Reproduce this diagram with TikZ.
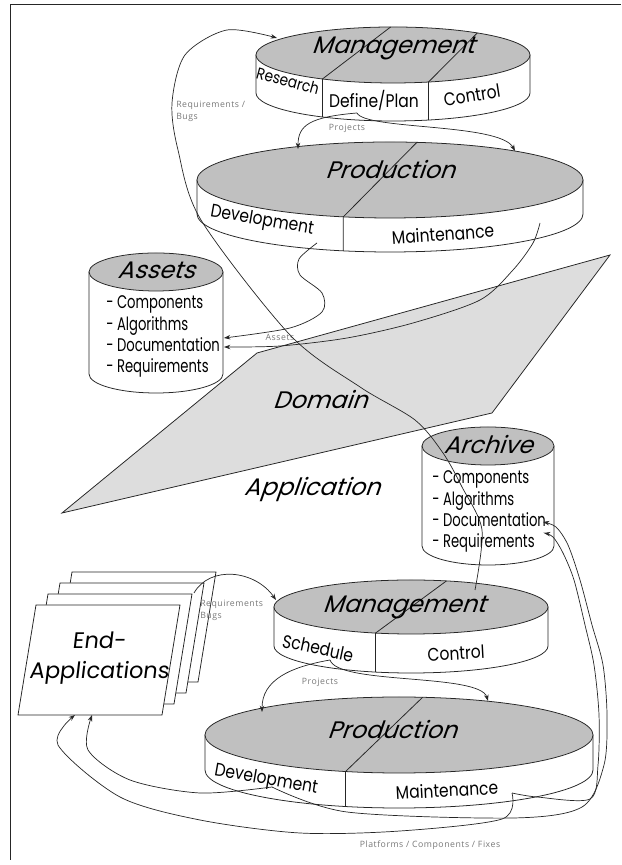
\documentclass[tikz,border=0pt]{standalone}
\usepackage{fontspec}
\setmainfont{Poppins}
\newfontfamily\titlefont[FakeSlant=0.35]{Poppins}
\newfontfamily\segfont[FakeStretch=0.85]{Poppins}
\newfontfamily\itemfont[FakeStretch=0.72]{Poppins}
\newfontfamily\endfont[FakeSlant=0.12]{Poppins}
\newfontfamily\notefont[LetterSpace=6]{Open Sans}
\usetikzlibrary{calc,arrows.meta}

\definecolor{topgray}{RGB}{192,192,192}
\definecolor{domaingray}{RGB}{221,221,221}
\definecolor{notegray}{RGB}{120,120,120}

\tikzset{
  outline/.style={draw=black!85, line width=0.55pt},
  wall/.style={outline, fill=white},
  topface/.style={outline, fill=topgray},
  page/.style={outline, fill=white},
  flow/.style={draw=black!85, line width=0.5pt, -{Stealth[length=4.5pt,width=3.2pt]}},
  title/.style={font=\titlefont\fontsize{17}{19}\selectfont, inner sep=0pt},
  seglabel/.style={font=\segfont\fontsize{13}{15}\selectfont, inner sep=0pt},
  itemlist/.style={font=\itemfont\fontsize{13}{15}\selectfont, inner sep=0pt, align=left, anchor=west},
  endtext/.style={font=\endfont\fontsize{16}{21}\selectfont, inner sep=0pt, align=center},
  note/.style={font=\notefont\fontsize{6.2}{8.5}\selectfont, text=notegray, inner sep=0pt},
}

\begin{document}
\begin{tikzpicture}[x=0.025cm, y=0.025cm]
\useasboundingbox (0,0) rectangle (621,865);

% Frame
\draw[outline] (10,5) -- (10,861) -- (621,861);

% Domain / Application plane
\filldraw[outline, fill=domaingray] (257,512) -- (610,610) -- (492,452) -- (62,352) -- cycle;
\node[title] (domain) at (320,465) {Domain};
\node[title] (application) at (312,375) {Application};

% Management (domain)
\coordinate (tm) at (393,810);
\filldraw[wall] (256,810) -- (256,772) arc[start angle=180, end angle=360, x radius=137, y radius=28] -- (530,810) -- cycle;
\filldraw[topface] (tm) ellipse [x radius=137, y radius=28];
\draw[outline] ($(tm)+(91:137 and 28)$) -- ($(tm)+(239:137 and 28)$) -- ++(0,-38);
\draw[outline] ($(tm)+(52:137 and 28)$) -- ($(tm)+(285:137 and 28)$) -- ++(0,-38);
\node[title] (tm-title) at (393,817) {Management};
\node[seglabel, font=\segfont\fontsize{11.5}{13}\selectfont, rotate=-15] (tm-research) at (288,784) {Research};
\node[seglabel] (tm-define) at (374,765) {Define/Plan};
\node[seglabel, rotate=9] (tm-control) at (472,770) {Control};

% Production (domain)
\coordinate (tp) at (390,685);
\filldraw[wall] (197,685) -- (197,651) arc[start angle=180, end angle=360, x radius=193, y radius=38] -- (583,685) -- cycle;
\filldraw[topface] (tp) ellipse [x radius=193, y radius=38];
\draw[outline] ($(tp)+(82:193 and 38)$) -- ($(tp)+(256:193 and 38)$) -- ++(0,-34);
\node[title] (tp-title) at (390,695) {Production};
\node[seglabel, rotate=-10] (tp-devel) at (262,644) {Development};
\node[seglabel, rotate=4] (tp-maint) at (443,631) {Maintenance};

% Assets
\coordinate (as) at (156,593);
\filldraw[wall] (89,593) -- (89,491) arc[start angle=180, end angle=360, x radius=67, y radius=19] -- (223,593) -- cycle;
\filldraw[topface] (as) ellipse [x radius=67, y radius=19];
\node[title] (as-title) at (156,595) {Assets};
\node[itemlist] (as-items) at (106,528.5) {- Components\\- Algorithms\\- Documentation\\- Requirements};

% Archive
\coordinate (ar) at (488,419);
\filldraw[wall] (422,419) -- (422,319) arc[start angle=180, end angle=360, x radius=66, y radius=19] -- (554,419) -- cycle;
\filldraw[topface] (ar) ellipse [x radius=66, y radius=19];
\node[title] (ar-title) at (488,420) {Archive};
\node[itemlist] (ar-items) at (432,353.5) {- Components\\- Algorithms\\- Documentation\\- Requirements};

% Management (application)
\coordinate (bm) at (411,258);
\filldraw[wall] (274,258) -- (274,219) arc[start angle=180, end angle=360, x radius=137, y radius=27] -- (548,258) -- cycle;
\filldraw[topface] (bm) ellipse [x radius=137, y radius=27];
\draw[outline] ($(bm)+(75:137 and 27)$) -- ($(bm)+(255:137 and 27)$) -- ++(0,-39);
\node[title] (bm-title) at (404,258) {Management};
\node[seglabel, rotate=-12] (bm-sched) at (318,217) {Schedule};
\node[seglabel, rotate=3] (bm-control) at (456,212) {Control};

% Production (application)
\coordinate (bp) at (399,130);
\filldraw[wall] (205,130) -- (205,95) arc[start angle=180, end angle=360, x radius=194, y radius=38] -- (593,130) -- cycle;
\filldraw[topface] (bp) ellipse [x radius=194, y radius=38];
\draw[outline] ($(bp)+(83:194 and 38)$) -- ($(bp)+(254:194 and 38)$) -- ++(0,-35);
\node[title] (bp-title) at (392,135) {Production};
\node[seglabel, rotate=-10] (bp-devel) at (266,85) {Development};
\node[seglabel, rotate=3] (bp-maint) at (447,75) {Maintenance};

% End-applications, pages back to front
\foreach \k in {3,2,1,0}
  \filldraw[page] ({18+12*\k},{150+11*\k}) -- ++(144,0) -- ++(18,110) -- ++(-144,0) -- cycle;
\node[endtext] (endapps) at (99,207) {End-\\Applications};

% Connector ends
\coordinate (tm-proj) at (357,752);
\coordinate (tp-in-l) at (298,716);
\coordinate (tp-in-r) at (515,714);
\coordinate (tp-dev) at (317,622);
\coordinate (tp-mnt) at (540,642);
\coordinate (as-in1) at (224,527);
\coordinate (as-in2) at (224,518);
\coordinate (bm-req) at (475,275);
\coordinate (tm-in) at (277,827);
\coordinate (ea-out) at (194,272);
\coordinate (bm-in) at (276,265);
\coordinate (bm-proj) at (330,205);
\coordinate (bp-in-l) at (262,153);
\coordinate (bp-in-r) at (488,164);
\coordinate (bp-dev) at (272,78);
\coordinate (bp-mnt) at (512,72);
\coordinate (ea-in1) at (75,150);
\coordinate (ea-in2) at (92,150);
\coordinate (ar-in1) at (543,343);
\coordinate (ar-in2) at (544,332);

% Projects (domain)
\draw[flow] (tm-proj) .. controls (310,748) and (298,740) .. (tp-in-l);
\draw[flow] (tm-proj) .. controls (365,735) and (500,742) .. (tp-in-r);
\node[note] (tm-projects) at (347,737) {Projects};

% Assets flow
\draw[flow] plot[smooth] coordinates {(tp-dev) (299,606) (300,590) (322,572) (322,553) (290,537) (as-in1)};
\draw[flow] plot[smooth] coordinates {(tp-mnt) (533,622) (513,595) (480,565) (413,542) (347,527) (280,519) (as-in2)};
\node[note] (as-note) at (280,528) {Assets};

% Requirements / Bugs back to domain management
\draw[flow] plot[smooth] coordinates {(bm-req) (482,335) (462,378) (443,412) (415,445) (360,478) (290,530) (201,645) (178,715) (172,762) (185,810) (227,835) (tm-in)};
\node[note, anchor=west, align=left] (tm-req) at (176,754) {Requirements /\\Bugs};

% Requirements / Bugs from end-applications
\draw[flow] (ea-out) .. controls (210,300) and (255,295) .. (bm-in);
\node[note, anchor=west, align=left] (bm-req-note) at (200,255) {Requirements\\Bugs};

% Projects (application)
\draw[flow] (bm-proj) .. controls (290,198) and (262,185) .. (bp-in-l);
\draw[flow] (bm-proj) .. controls (338,180) and (480,192) .. (bp-in-r);
\node[note] (bm-projects) at (320,183) {Projects};

% Platforms / Components / Fixes
\draw[flow] plot[smooth] coordinates {(bp-dev) (200,72) (130,85) (88,115) (ea-in2)};
\draw[flow] plot[smooth] coordinates {(bp-mnt) (502,46) (400,34) (300,32) (200,45) (120,68) (58,120) (ea-in1)};
\draw[flow] plot[smooth] coordinates {(bp-dev) (347,53) (513,47) (582,58) (604,100) (607,150) (603,200) (592,240) (580,285) (568,320) (556,338) (ar-in1)};
\draw[flow] plot[smooth] coordinates {(bp-mnt) (537,68) (590,66) (598,100) (599,150) (594,200) (585,240) (574,285) (563,312) (553,328) (ar-in2)};
\node[note] (platforms) at (430,20) {Platforms / Components / Fixes};

\end{tikzpicture}
\end{document}
